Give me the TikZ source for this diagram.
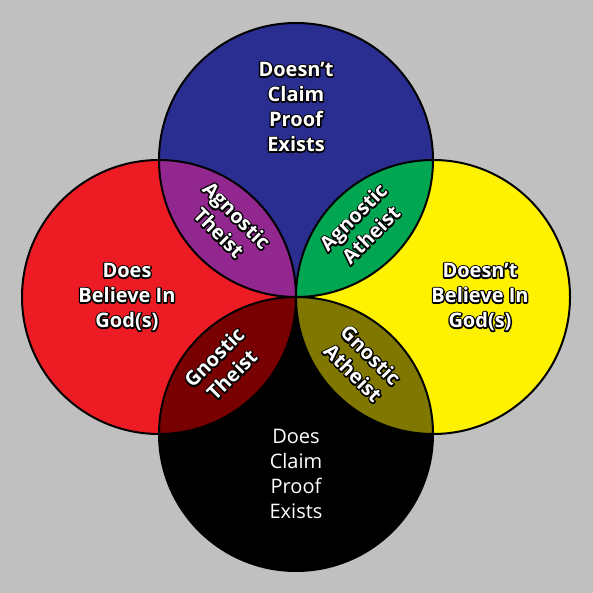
\documentclass[tikz,border=0pt]{standalone}
\usepackage{fontspec}
\setmainfont{Open Sans}
\definecolor{bg}{HTML}{C0C0C0}
\definecolor{cblue}{HTML}{2B2E91}
\definecolor{cred}{HTML}{ED1C24}
\definecolor{cyellow}{HTML}{FFF200}
\definecolor{cpurple}{HTML}{92278F}
\definecolor{cgreen}{HTML}{00A651}
\definecolor{cdarkred}{HTML}{790000}
\definecolor{colive}{HTML}{7F7700}
\tikzset{
  lbl/.style={align=center,font=\fontsize{20}{25}\selectfont\bfseries,inner sep=0pt,text=white},
  plainlbl/.style={align=center,font=\fontsize{20}{25}\selectfont,inner sep=0pt,text=white},
  ring/.style={draw=black,line width=2pt}
}
\newcommand\stk[1]{\special{pdf:literal direct 1 Tr 2.8 w 1 j 0 G}#1\special{pdf:literal direct 0 Tr}}
\newcommand\olabel[4]{%
  \node[lbl,rotate=#2] at (#1) {\stk{#4}};
  \node[lbl,rotate=#2] (#3) at (#1) {#4};
}
\begin{document}
\begin{tikzpicture}[x=1pt,y=-1pt]
\fill[bg] (0,0) rectangle (593,593);
\useasboundingbox (0,0) rectangle (593,593);
\def\R{137}
\coordinate (T) at (296,160);
\coordinate (L) at (159,297);
\coordinate (Rt) at (433,297);
\coordinate (B) at (296,434);
\fill[cblue] (T) circle[radius=\R];
\fill[cred] (L) circle[radius=\R];
\fill[cyellow] (Rt) circle[radius=\R];
\fill[black] (B) circle[radius=\R];
\begin{scope}\clip (T) circle[radius=\R]; \fill[cpurple] (L) circle[radius=\R]; \fill[cgreen] (Rt) circle[radius=\R];\end{scope}
\begin{scope}\clip (B) circle[radius=\R]; \fill[cdarkred] (L) circle[radius=\R]; \fill[colive] (Rt) circle[radius=\R];\end{scope}
\draw[ring] (T) circle[radius=\R];
\draw[ring] (L) circle[radius=\R];
\draw[ring] (Rt) circle[radius=\R];
\draw[ring] (B) circle[radius=\R];
\olabel{296,107}{0}{tt}{Doesn’t\\Claim\\Proof\\Exists}
\olabel{127,297}{0}{lt}{Does\\Believe In\\God(s)}
\olabel{480,297}{0}{rt}{Doesn’t\\Believe In\\God(s)}
\node[plainlbl] (bt) at (296,474) {Does\\Claim\\Proof\\Exists};
\olabel{228,224}{-45}{at}{Agnostic\\Theist}
\olabel{362,226}{45}{aa}{Agnostic\\Atheist}
\olabel{223,366}{45}{gt}{Gnostic\\Theist}
\olabel{362,364}{-45}{ga}{Gnostic\\Atheist}
\end{tikzpicture}
\end{document}
